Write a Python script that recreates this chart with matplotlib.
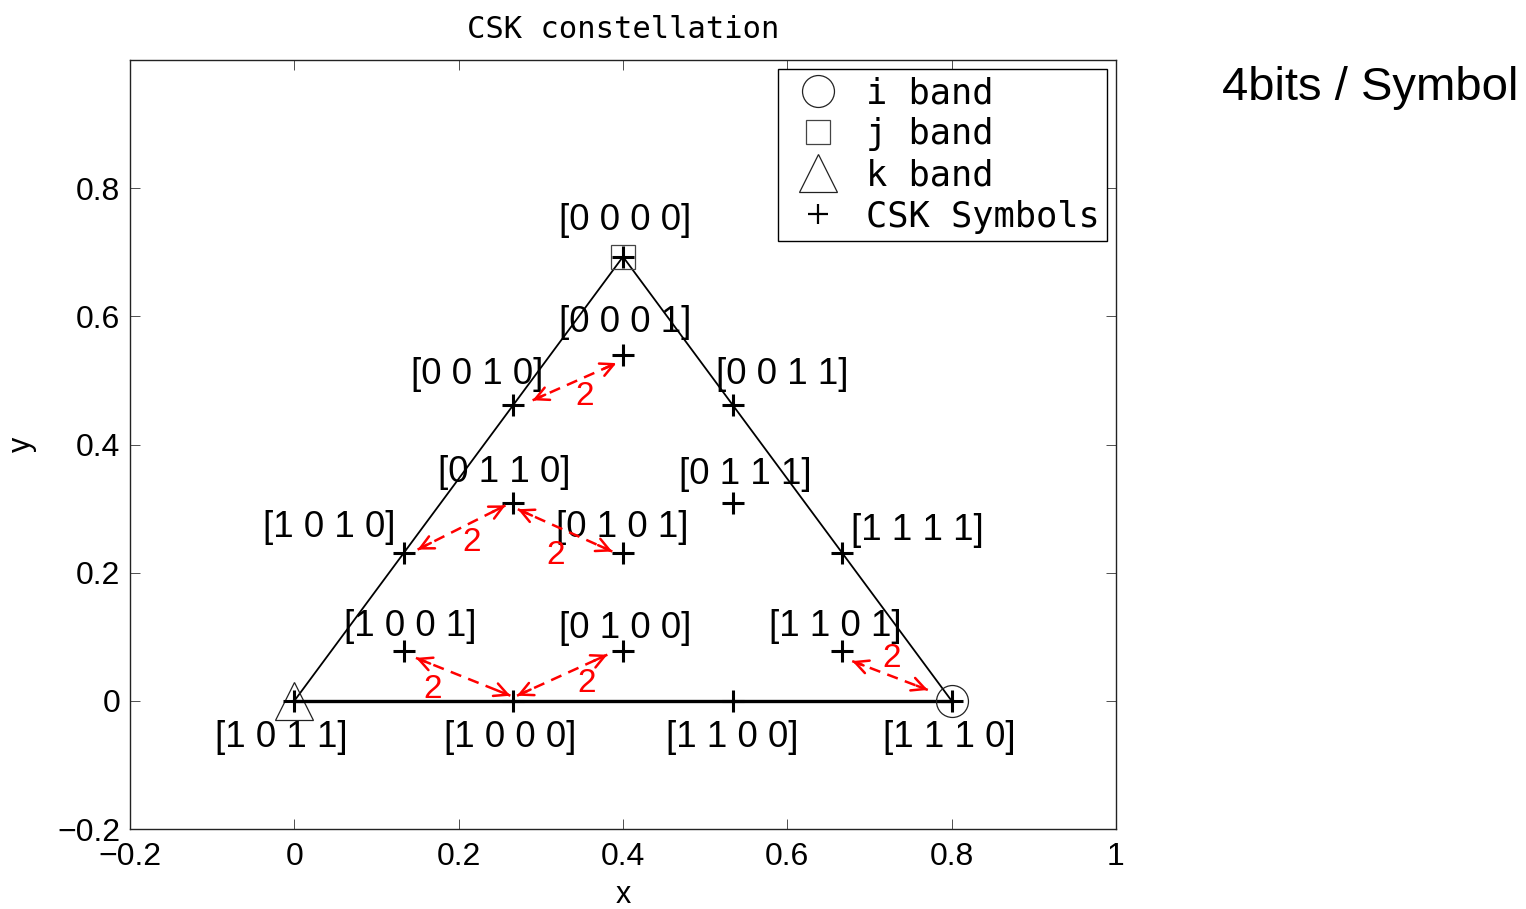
import matplotlib
matplotlib.use("Agg")
import matplotlib.pyplot as plt
from matplotlib.lines import Line2D

# ---------------- data ----------------
# band vertices (i, j, k)
band_i = (0.8, 0.0)
band_j = (0.4, 0.693)
band_k = (0.0, 0.0)

# CSK symbol positions and bit labels
sym_x = [0.4, 0.4, 0.2667, 0.5333, 0.2667, 0.5333, 0.1333, 0.4, 0.6667,
         0.1333, 0.4, 0.6667, 0.0, 0.2667, 0.5333, 0.8]
sym_y = [0.693, 0.539, 0.462, 0.462, 0.308, 0.308, 0.231, 0.231, 0.231,
         0.077, 0.077, 0.077, 0.0, 0.0, 0.0, 0.0]
sym_labels = ["[0 0 0 0]", "[0 0 0 1]", "[0 0 1 0]", "[0 0 1 1]",
              "[0 1 1 0]", "[0 1 1 1]", "[1 0 1 0]", "[0 1 0 1]", "[1 1 1 1]",
              "[1 0 0 1]", "[0 1 0 0]", "[1 1 0 1]",
              "[1 0 1 1]", "[1 0 0 0]", "[1 1 0 0]", "[1 1 1 0]"]
# label offsets from the symbol (pixels: right, up)
label_dx = [2, 2, -36, 50, -9, 13, -75, -1, 75, 6, 2, -7, -13, -3, 0, -2]
label_dy = [36, 33, 30, 30, 31, 29, 25, 25, 22, 25, 23, 25, -37, -37, -37, -37]

# Hamming-distance arrows (x1, y1, x2, y2) and their "2" labels
arrow_x1 = [0.290, 0.150, 0.272, 0.148, 0.271, 0.679]
arrow_y1 = [0.469, 0.236, 0.299, 0.067, 0.008, 0.062]
arrow_x2 = [0.392, 0.257, 0.387, 0.263, 0.381, 0.771]
arrow_y2 = [0.527, 0.305, 0.233, 0.008, 0.072, 0.017]
dist_x = [0.353, 0.216, 0.318, 0.168, 0.356, 0.727]
dist_y = [0.475, 0.247, 0.227, 0.017, 0.027, 0.066]
dist_text = ["2", "2", "2", "2", "2", "2"]

# ---------------- figure ----------------
fig = plt.figure(figsize=(15.26, 9.09), dpi=100)
ax = fig.add_axes([0.0852, 0.088, 0.7313 - 0.0852, 0.934 - 0.088])

sans = ["Liberation Sans", "DejaVu Sans"]
mono = ["DejaVu Sans Mono"]

# triangle edges
ax.plot([band_k[0], band_j[0], band_i[0]], [band_k[1], band_j[1], band_i[1]],
        color="black", lw=1.3, zorder=2)
ax.plot([band_k[0], band_i[0]], [band_k[1], band_i[1]], color="black", lw=2.4, zorder=2)

# band markers
ax.plot([band_i[0]], [band_i[1]], linestyle="none", marker="o", ms=23,
        mfc="none", mec="#222222", mew=0.9, zorder=3)
ax.plot([band_j[0]], [band_j[1]], linestyle="none", marker="s", ms=17,
        mfc="none", mec="#444444", mew=0.9, zorder=3)
ax.plot([band_k[0]], [band_k[1]], linestyle="none", marker="^", ms=27,
        mfc="none", mec="#222222", mew=0.9, zorder=3)

# CSK symbols
ax.plot(sym_x, sym_y, linestyle="none", marker="+", ms=16, mew=2.2,
        color="black", zorder=4)

for x, y, t, dx, dy in zip(sym_x, sym_y, sym_labels, label_dx, label_dy):
    ax.annotate(t, xy=(x, y), xytext=(dx * 0.72, dy * 0.72),
                textcoords="offset points", ha="center", va="center",
                fontsize=26.5, family=sans, color="black", zorder=5)

# arrows
for x1, y1, x2, y2 in zip(arrow_x1, arrow_y1, arrow_x2, arrow_y2):
    ax.plot([x1, x2], [y1, y2], color="red", lw=1.8, linestyle=(0, (4.5, 3)), zorder=5)
    for (ax_, ay_), (bx, by) in (((x1, y1), (x2, y2)), ((x2, y2), (x1, y1))):
        fx = ax_ + 0.15 * (bx - ax_)
        fy = ay_ + 0.15 * (by - ay_)
        ax.annotate("", xy=(ax_, ay_), xytext=(fx, fy),
                    arrowprops=dict(arrowstyle="->", color="red", lw=1.8,
                                    shrinkA=0, shrinkB=0, mutation_scale=24),
                    zorder=6)

for x, y, t in zip(dist_x, dist_y, dist_text):
    ax.text(x, y, t, color="red", fontsize=24, family=sans,
            ha="center", va="center", zorder=6)

# axes
ax.set_xlim(-0.2, 1.0)
ax.set_ylim(-0.2, 1.0)
ax.set_xticks([-0.2, 0, 0.2, 0.4, 0.6, 0.8, 1.0])
ax.set_xticklabels(["\u22120.2", "0", "0.2", "0.4", "0.6", "0.8", "1"])
ax.set_yticks([-0.2, 0, 0.2, 0.4, 0.6, 0.8])
ax.set_yticklabels(["\u22120.2", "0", "0.2", "0.4", "0.6", "0.8"])
ax.tick_params(direction="in", top=True, right=True, length=7, width=0.6,
               color="#333333", labelsize=23)
ax.tick_params(axis="x", pad=9)
ax.tick_params(axis="y", pad=7)
for lab in ax.get_xticklabels() + ax.get_yticklabels():
    lab.set_family(sans)
for s in ax.spines.values():
    s.set_linewidth(1.0)
    s.set_color("#222222")

ax.set_xlabel("x", fontsize=22, family=sans, labelpad=6)
ax.set_ylabel("y", fontsize=22, family=sans)
ax.yaxis.set_label_coords(-0.094, 0.5)
ax.set_title("CSK constellation", fontsize=22, family=mono, pad=16)

# legend
handles = [
    Line2D([], [], linestyle="none", marker="o", ms=23, mfc="none", mec="#222222", mew=0.9),
    Line2D([], [], linestyle="none", marker="s", ms=17, mfc="none", mec="#444444", mew=0.9),
    Line2D([], [], linestyle="none", marker="^", ms=27, mfc="none", mec="#222222", mew=0.9),
    Line2D([], [], linestyle="none", marker="+", ms=14, mew=1.6, color="black"),
]
leg = ax.legend(handles, ["i band", "j band", "k band", "CSK Symbols"],
                loc="upper right", bbox_to_anchor=(0.991, 0.988), borderaxespad=0,
                prop=dict(family=mono, size=25.5), frameon=True, fancybox=False,
                edgecolor="black", framealpha=1, labelspacing=0.2,
                handlelength=1.9, handletextpad=0.4, borderpad=0.2)
leg.get_frame().set_linewidth(1.0)

fig.text(0.8008, 0.903, "4bits / Symbol", fontsize=34, family=sans,
         ha="left", va="center")

fig.savefig("out.png", dpi=100)
